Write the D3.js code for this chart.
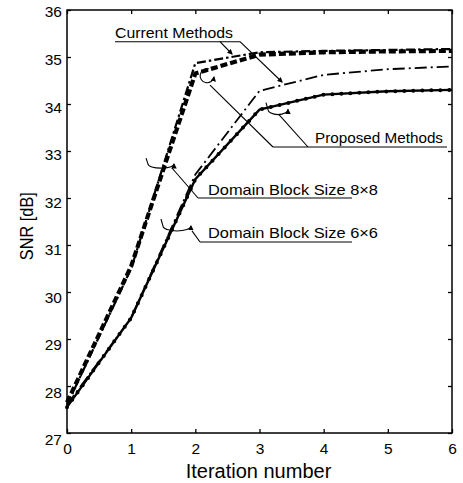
<!DOCTYPE html>
<html><head><meta charset="utf-8">
<script src="https://cdn.jsdelivr.net/npm/d3@7"></script>
<style>
body{margin:0;background:#fff}
svg{display:block;font-family:"Liberation Sans",Arial,Helvetica,sans-serif}
</style>
</head><body>
<svg id="c" width="463" height="483"></svg>
<script>
// ---- data ----
const iterations = [0, 1, 2, 3, 4, 5, 6];
const xTickValues = [0, 1, 2, 3, 4, 5, 6];
const yTickValues = [27, 28, 29, 30, 31, 32, 33, 34, 35, 36];
const currentDashed6   = [27.65, 30.55, 34.65, 35.05, 35.10, 35.12, 35.13];
const currentDashDot8  = [27.60, 30.50, 34.87, 35.10, 35.13, 35.15, 35.17];
const proposedDashDot8 = [27.60, 29.45, 32.50, 34.28, 34.62, 34.74, 34.80];
const proposedSolid6   = [27.55, 29.45, 32.40, 33.88, 34.20, 34.27, 34.30];
const xTitle = "Iteration number";
const yTitle = "SNR [dB]";
const labelCurrent = "Current Methods";
const labelProposed = "Proposed Methods";
const label8 = "Domain Block Size 8\u00D78";
const label6 = "Domain Block Size 6\u00D76";

// ---- setup ----
const svg = d3.select("#c");
const x = d3.scaleLinear().domain([0, 6]).range([67, 452]);
const y = d3.scaleLinear().domain([27, 36]).range([433, 10]);

svg.append("defs").append("marker")
  .attr("id", "arr").attr("viewBox", "0 0 10 10").attr("refX", 8).attr("refY", 5)
  .attr("markerWidth", 5).attr("markerHeight", 5).attr("orient", "auto")
  .append("path").attr("d", "M0,0L10,5L0,10z").attr("fill", "#000");

// axes (inward ticks)
const gB = svg.append("g").attr("transform", `translate(0,${y(27)})`)
  .call(d3.axisBottom(x).tickValues(xTickValues).tickSize(-4).tickPadding(10).tickFormat(d3.format("d")));
const gL = svg.append("g").attr("transform", `translate(${x(0)},0)`)
  .call(d3.axisLeft(y).tickValues(yTickValues).tickSize(-4).tickPadding(5).tickFormat(d3.format("d")));
const gT = svg.append("g").attr("transform", `translate(0,${y(36)})`)
  .call(d3.axisTop(x).tickValues(xTickValues).tickSize(-4).tickFormat(""));
const gR = svg.append("g").attr("transform", `translate(${x(6)},0)`)
  .call(d3.axisRight(y).tickValues(yTickValues).tickSize(-4).tickFormat(""));
[gB, gL, gT, gR].forEach(g => {
  g.select(".domain").remove();
  g.selectAll(".tick line").attr("stroke", "#000").attr("stroke-width", 1.3);
  g.selectAll("text").attr("font-family", "Liberation Sans, Arial, sans-serif").attr("font-size", 15.5).attr("fill", "#000");
});
gL.selectAll(".tick text").attr("transform", d => `translate(0,${2 + (36 - d) * 0.55})`);

svg.append("rect")
  .attr("x", x(0)).attr("y", y(36))
  .attr("width", x(6) - x(0)).attr("height", y(27) - y(36))
  .attr("fill", "none").attr("stroke", "#000").attr("stroke-width", 1.5);

// titles
svg.append("text").attr("x", (x(0) + x(6)) / 2 - 1).attr("y", 478)
  .attr("text-anchor", "middle").attr("font-size", 20).text(xTitle);
svg.append("text").attr("transform", `translate(33,${y(31.4)}) rotate(-90)`)
  .attr("text-anchor", "middle").attr("font-size", 19).attr("textLength", 68)
  .attr("lengthAdjust", "spacingAndGlyphs").text(yTitle);

// ---- lines ----
const line = d3.line().x((d, i) => x(iterations[i])).y(d => y(d));
const plot = svg.append("g");
plot.append("path").attr("d", line(proposedSolid6)).attr("fill", "none")
  .attr("stroke", "#000").attr("stroke-width", 2.4);
plot.append("path").attr("d", line(proposedSolid6)).attr("fill", "none")
  .attr("stroke", "#000").attr("stroke-width", 4).attr("stroke-linecap", "round")
  .attr("stroke-dasharray", "0 9");
plot.append("path").attr("d", line(proposedDashDot8)).attr("fill", "none")
  .attr("stroke", "#000").attr("stroke-width", 1.8).attr("stroke-dasharray", "12 4 2 4");
plot.append("path").attr("d", line(currentDashDot8)).attr("fill", "none")
  .attr("stroke", "#000").attr("stroke-width", 2.2).attr("stroke-dasharray", "9 3 2.5 3");
plot.append("path").attr("d", line(currentDashed6)).attr("fill", "none")
  .attr("stroke", "#000").attr("stroke-width", 4.2).attr("stroke-dasharray", "7 3");

// ---- annotations ----
const ann = svg.append("g").attr("stroke", "#000").attr("fill", "none").attr("stroke-width", 1.1);
function seg(a, b, c, d, arrow) {
  const p = ann.append("line").attr("x1", x(a)).attr("y1", y(b)).attr("x2", x(c)).attr("y2", y(d));
  if (arrow) p.attr("marker-end", "url(#arr)");
}
function label(t, tx, ty, len) {
  svg.append("text").attr("x", x(tx)).attr("y", y(ty)).attr("font-size", 15)
    .attr("textLength", len).attr("lengthAdjust", "spacingAndGlyphs").text(t);
}
function curlH(cx, cy, rx, ry) {
  const X = x(cx), Y = y(cy);
  ann.append("path").attr("d", `M${X - rx - 2},${Y - ry - 3}L${X - rx},${Y - 1}A${rx},${ry} 0 0 0 ${X + rx},${Y - 1}`)
    .attr("marker-end", "url(#arr)");
}
function curlC(cx, cy, r) {
  const X = x(cx), Y = y(cy);
  ann.append("path").attr("d", `M${X + 2},${Y - r}A${r},${r} 0 1 0 ${X + r},${Y + 1}`)
    .attr("marker-end", "url(#arr)");
}

// Current Methods
label(labelCurrent, 0.748, 35.40, 118);
seg(0.748, 35.326, 2.696, 35.326);
seg(2.384, 35.326, 2.571, 35.064, true);
seg(2.696, 35.326, 3.351, 34.468, true);
// Proposed Methods
label(labelProposed, 3.865, 33.17, 128);
seg(3.210, 33.085, 5.922, 33.085);
seg(3.210, 33.085, 2.229, 34.40);
seg(3.756, 33.085, 3.300, 33.78);
curlC(2.182, 34.596, 7);
curlH(3.288, 33.86, 10, 5);
// Domain block sizes
label(label8, 2.197, 32.064, 170);
seg(2.042, 32.0, 4.442, 32.0);
seg(2.042, 32.0, 1.636, 32.638);
curlH(1.465, 32.70, 13, 4);
label(label6, 2.197, 31.149, 170);
seg(2.073, 31.064, 4.442, 31.064);
seg(2.073, 31.064, 1.948, 31.30);
curlH(1.714, 31.383, 14, 5);
</script>
</body></html>
